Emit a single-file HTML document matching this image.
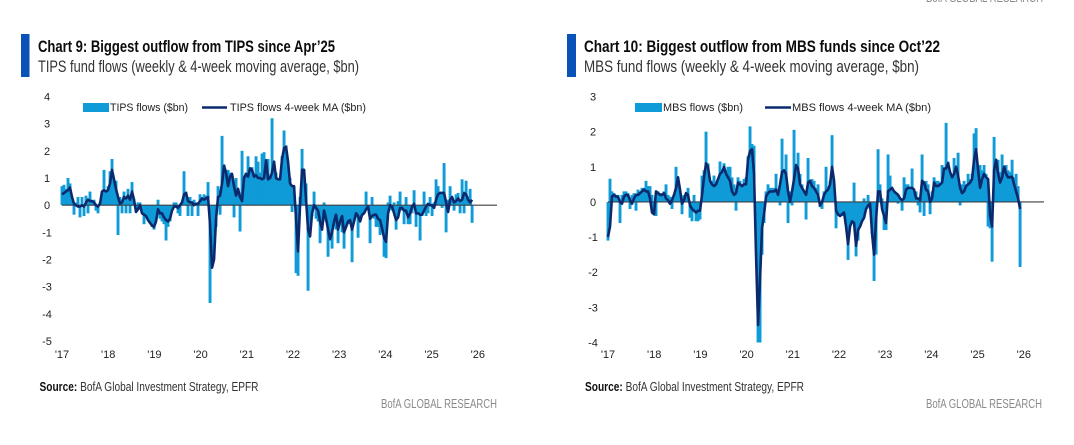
<!DOCTYPE html>
<html lang="en">
<head>
<meta charset="utf-8">
<title>TIPS and MBS fund flows</title>
<style>
html,body{margin:0;padding:0;background:#fff;width:1074px;height:445px;overflow:hidden}
svg{display:block}
text{font-family:"Liberation Sans Narrow","Liberation Sans",sans-serif;fill:#2b2b2b}
.title{font-size:17px;font-weight:bold;fill:#0c0c0c}
.sub{font-size:16.5px;fill:#333}
.legend{font-family:"Liberation Sans",sans-serif;font-size:11px;fill:#222}
.tick{font-family:"Liberation Sans",sans-serif;font-size:11px;fill:#222}
.src{font-size:12.5px;fill:#333}
.srcb{font-weight:bold;fill:#111}
.brand{font-size:12.5px;fill:#8a8a8a}
</style>
</head>
<body>
<svg id="page" width="1074" height="445" viewBox="0 0 1074 445" xmlns="http://www.w3.org/2000/svg">
  <rect width="1074" height="445" fill="#fff"/>
  <text class="brand" x="926" y="2" textLength="117" lengthAdjust="spacingAndGlyphs">BofA GLOBAL RESEARCH</text>

  <g id="panel-left">
    <rect x="21" y="34" width="8.5" height="43" fill="#0a52b8"/>
    <text class="title" x="38" y="52" textLength="297" lengthAdjust="spacingAndGlyphs">Chart 9: Biggest outflow from TIPS since Apr’25</text>
    <text class="sub" x="38" y="72" textLength="321" lengthAdjust="spacingAndGlyphs">TIPS fund flows (weekly &amp; 4-week moving average, $bn)</text>
    <rect x="83" y="103" width="26" height="9" fill="#0f9bd7"/>
    <text class="legend" x="110" y="111" textLength="78" lengthAdjust="spacingAndGlyphs">TIPS flows ($bn)</text>
    <line x1="202" y1="107.5" x2="227" y2="107.5" stroke="#0b2a6e" stroke-width="2.4"/>
    <text class="legend" x="230" y="111" textLength="136" lengthAdjust="spacingAndGlyphs">TIPS flows 4-week MA ($bn)</text>
    <text class="src" x="39.5" y="391" textLength="219" lengthAdjust="spacingAndGlyphs"><tspan class="srcb">Source:</tspan> BofA Global Investment Strategy, EPFR</text>
    <text class="brand" x="381" y="408" textLength="116" lengthAdjust="spacingAndGlyphs">BofA GLOBAL RESEARCH</text>
  </g>

  <g id="panel-right">
    <rect x="567" y="34" width="9" height="43" fill="#0a52b8"/>
    <text class="title" x="584" y="52" textLength="356" lengthAdjust="spacingAndGlyphs">Chart 10: Biggest outflow from MBS funds since Oct’22</text>
    <text class="sub" x="584" y="72" textLength="335" lengthAdjust="spacingAndGlyphs">MBS fund flows (weekly &amp; 4-week moving average, $bn)</text>
    <rect x="635" y="103" width="27" height="9" fill="#0f9bd7"/>
    <text class="legend" x="663" y="111" textLength="80" lengthAdjust="spacingAndGlyphs">MBS flows ($bn)</text>
    <line x1="765" y1="107.5" x2="791" y2="107.5" stroke="#0b2a6e" stroke-width="2.4"/>
    <text class="legend" x="792" y="111" textLength="139" lengthAdjust="spacingAndGlyphs">MBS flows 4-week MA ($bn)</text>
    <text class="src" x="585" y="391" textLength="219" lengthAdjust="spacingAndGlyphs"><tspan class="srcb">Source:</tspan> BofA Global Investment Strategy, EPFR</text>
    <text class="brand" x="926" y="408" textLength="116" lengthAdjust="spacingAndGlyphs">BofA GLOBAL RESEARCH</text>
  </g>
</svg>
<script>
// Shared category labels
const yearLabels = ["'17","'18","'19","'20","'21","'22","'23","'24","'25","'26"];
const firstYear = 2017;
// Sample spacing of the series, in years
const sampleYears = 0.0433;

// TIPS chart data ($bn)
const tipsTicks = [4,3,2,1,0,-1,-2,-3,-4,-5];
const tipsFlows = [
0.7,0.75,0.6,1.0,0.8,0.3,-0.35,0.1,0.3,-0.45,
0.3,-0.4,0.35,-0.3,0.5,0.1,0.2,-0.2,-0.3,0.1,
0.3,1.3,0.5,0.7,1.25,1.7,0.5,0.9,-1.1,0.3,
-0.3,0.5,-0.3,0.6,-0.3,0.85,0.2,-0.25,0.1,0.1,
-0.3,-0.7,-0.4,-0.5,-0.6,-0.8,-0.9,-0.5,0.2,-0.5,
-0.6,-0.7,-1.3,-0.8,-0.6,-0.2,0.1,0.1,-0.3,-0.4,
0.1,1.25,0.5,-0.4,0.3,-0.4,0.2,0.1,-0.4,0.4,
0.1,0.4,0.35,0.85,-3.6,-1.7,-1.6,-0.8,0.7,-0.35,
2.55,1.5,1.2,1.3,1.2,1.1,-0.45,1.0,0.4,-0.97,
2.0,1.0,1.2,1.8,1.4,1.4,1.0,1.8,1.6,1.2,
1.9,1.95,1.3,1.7,1.0,3.2,1.6,1.2,1.0,
1.0,1.8,2.75,2.2,1.4,1.0,-0.25,0.7,-2.5,-2.6,
0.3,2.07,1.3,0.8,-3.15,-0.6,-0.4,0.5,-0.5,-0.6,
-1.4,-0.6,0.1,-0.6,-1.9,-1.3,-1.6,-0.7,-0.9,-1.4,
-0.7,-1.0,-1.6,-0.8,-0.7,-0.6,-2.1,-0.5,-0.4,-1.2,
-0.6,-0.4,-0.3,0.5,-0.1,-1.4,0.3,-0.5,-0.8,-0.8,
-1.1,-1.0,-1.9,-1.95,0.1,0.35,-0.2,0.1,-0.9,0.15,
0.5,-0.2,-0.7,0.3,-0.7,-0.7,-0.3,0.55,-0.8,-0.2,
-1.3,-0.4,0.5,-0.4,-0.3,0.3,-0.4,0.1,0.95,0.7,
0.5,-0.1,1.55,-1.0,0.2,0.7,0.3,-0.2,0.4,0.45,
-0.3,0.95,-0.3,0.9,0.2,0.6,-0.65];
const tipsMA = [
0.4,0.45,0.5,0.55,0.65,0.3,0.05,0,-0.05,-0.05,
0,-0.05,0.1,0.2,0.15,0.15,0.1,0,-0.05,0.05,
0.5,0.55,0.5,0.55,0.8,1.3,0.95,0.6,0.3,0.05,
0.1,0.3,0.25,0.35,0.2,0.5,0.2,-0.25,-0.15,0,
-0.3,-0.35,-0.4,-0.55,-0.65,-0.75,-0.8,-0.6,-0.15,-0.3,
-0.3,-0.45,-0.55,-0.6,-0.5,-0.2,-0.05,-0.05,-0.1,0,
0.1,0.4,0.45,0.15,0.1,0.1,0,0.05,0.05,0.15,
0.25,0.2,0.25,0.3,-0.7,-2.3,-2.0,-0.5,0.3,0.35,
0.8,1.45,1.2,0.7,1.05,1.15,0.7,0.35,0.6,0.3,
0.15,1.0,1.15,1.05,1.35,1.3,1.05,1.1,1.0,1.0,
0.95,1.0,1.65,0.95,1.0,1.2,1.6,1.0,0.95,
0.95,1.7,2.1,2.15,1.6,0.8,0.7,0.7,-0.5,-1.7,
0.0,1.3,1.3,0.2,-0.9,-1.15,-0.3,0,-0.1,-0.2,
-0.6,-0.9,-0.2,-0.5,-0.9,-1.25,-1.0,-0.6,-0.35,-0.9,
-0.6,-0.4,-1.0,-0.8,-0.6,-0.55,-0.9,-0.6,-0.3,-0.4,
-0.6,-0.35,-0.3,-0.15,-0.05,-0.5,-0.4,-0.35,-0.35,-0.5,
-0.55,-0.85,-1.2,-1.35,-0.3,0,-0.05,-0.3,-0.55,-0.45,
-0.1,-0.1,-0.2,-0.2,-0.45,-0.3,-0.05,0.05,-0.3,-0.3,
-0.35,-0.35,-0.2,-0.05,0.05,0,0,-0.1,0.2,0.4,
0.45,0.45,0.45,0.1,-0.25,0.2,0.3,0.1,0.15,0.25,
0.15,0.2,0.45,0.4,0.2,0.1,0.2];

// MBS chart data ($bn)
const mbsTicks = [3,2,1,0,-1,-2,-3,-4];
const mbsFlows = [
-1.1,0.66,0.3,0.25,0.2,0.2,-0.6,0.2,0.3,0.3,
0.25,-0.2,0.2,0.25,-0.25,0.35,0.3,0.4,0.4,0.6,
0.45,0.45,0.2,-0.15,-0.4,0.3,0.25,0.25,0.3,0.5,
0.2,0.15,-0.2,0.2,1.0,0.55,0.3,-0.35,0.2,0.15,
0.4,-0.45,-0.55,0.2,-0.55,-0.55,-0.5,0.75,0.9,2.0,
1.1,0.6,0.6,0.75,0.5,0.6,1.15,0.8,1.1,0.9,
1.0,1.0,0.7,0.5,-0.25,0.7,0.6,0.45,0.65,0.7,
1.3,2.15,1.65,1.6,-1.2,-4.0,-4.0,-1.5,-0.6,0.3,
0.5,0.4,0.4,0.4,0.8,0.3,-0.1,1.8,0.7,1.35,
-0.6,0.3,-0.1,2.05,0.8,1.4,0.8,0.5,0.3,-0.5,
1.25,0.6,0.65,0.6,0.4,0.5,-0.15,-0.2,0.3,1.0,
0.3,
0.6,1.9,0.3,-0.75,-0.4,-0.4,-0.4,-0.4,-0.4,-1.65,
-0.6,0,0.55,-1.55,-1.1,-0.7,-0.4,0.1,0,0.2,
-0.2,-0.9,-2.25,-1.5,1.5,0.5,0.1,-0.8,-0.8,1.35,
0.75,0.35,0.3,0.1,-0.05,0.1,-0.25,0.7,0.5,0.5,
0.3,0.95,0.2,0.3,-0.1,-0.3,1.35,-0.4,0.6,0.5,
-0.35,0.3,0.7,0.6,0.6,0.55,1.05,0.9,2.25,1.15,
0.5,0.7,1.25,0.8,1.4,-0.1,0.5,0.6,0.5,0.8,
0.65,0.8,1.95,2.1,1.0,1.05,0.9,1.05,0.8,-0.7,
-0.75,-1.7,1.85,0.8,1.2,0.85,1.35,1.0,1.05,0.9,
0.85,1.2,0.7,0.8,0.45,-1.85];
const mbsMA = [
-1.0,-0.7,0.15,0.2,0.15,0.15,0.0,-0.05,0.15,0.2,
0.2,0.05,-0.05,0.1,0.2,0.2,0.25,0.3,0.35,0.3,
0.3,0.1,-0.3,-0.35,0.3,0.25,0.2,0.2,0.25,0.1,
0.05,-0.05,0.05,0.2,0.4,0.7,0.35,-0.05,0.05,0.25,
0.2,-0.1,-0.2,-0.25,-0.3,-0.25,-0.25,0.2,0.7,1.1,
1.0,0.6,0.5,0.45,0.5,0.65,0.8,0.85,1.0,0.8,
0.7,0.6,0.3,0.2,0.25,0.55,0.5,0.45,0.5,0.5,
1.2,1.45,1.5,0.8,-1.5,-3.5,-2.2,-0.75,-0.35,0.15,
0.25,0.3,0.3,0.3,0.35,0.2,0.5,0.85,0.9,0.8,
0.3,0,0.3,0.65,1.05,0.95,0.5,0.4,0.3,0.2,
0.55,0.6,0.45,0.4,0.3,0.2,-0.1,0,0.2,0.3,
0.35,
0.5,1.0,0.6,-0.25,-0.35,-0.4,-0.35,-0.3,-0.7,-1.2,
-0.7,-0.55,-0.6,-1.25,-0.8,-0.7,-0.55,-0.45,-0.2,-0.1,
-0.05,-0.9,-1.5,-0.5,0.3,0.3,-0.2,-0.4,-0.6,0.3,
0.35,0.4,0.3,0.25,0.2,0.1,0.05,0.1,0.35,0.4,
0.4,0.4,0.35,0.1,0.1,0.05,0.6,0.55,0.35,0.3,
0,0.1,0.55,0.45,0.45,0.5,0.55,0.95,0.95,1.1,
0.85,0.7,0.8,1.0,0.75,0.4,0.25,0.3,0.45,0.5,
0.55,0.65,1.2,1.5,0.9,0.4,0.65,0.8,0.7,0.65,
-0.4,-0.7,0.9,1.2,0.8,0.55,0.7,1.0,0.8,0.7,
0.7,0.72,0.5,0.3,0.1,-0.2];

const NS = 'http://www.w3.org/2000/svg';

function drawChart(parentId, prefix, ticks, flows, ma, layout) {
  const parent = document.getElementById(parentId);
  const maxTick = ticks[0];
  const minTick = ticks[ticks.length - 1];
  const xScale = function (year) {
    return layout.left + (year - firstYear) * layout.pxPerYear;
  };
  const yScale = function (v) {
    return layout.top + (maxTick - v) * (layout.bottom - layout.top) / (maxTick - minTick);
  };
  const sampleX = function (i) {
    return xScale(firstYear + i * sampleYears);
  };

  // y-axis tick labels
  ticks.forEach(function (t) {
    const label = document.createElementNS(NS, 'text');
    
    
    label.setAttribute('class', 'tick');
    label.setAttribute('text-anchor', 'middle');
    label.setAttribute('x', layout.tickX);
    label.setAttribute('y', yScale(t) + 4);
    label.textContent = String(t);
    parent.appendChild(label);
  });

  // x-axis tick labels
  yearLabels.forEach(function (yl, i) {
    const label = document.createElementNS(NS, 'text');
    
    
    label.setAttribute('class', 'tick');
    label.setAttribute('text-anchor', 'middle');
    label.setAttribute('x', xScale(firstYear + i));
    label.setAttribute('y', layout.xLabelY);
    label.textContent = yl;
    parent.appendChild(label);
  });

  // solid body of the flow columns, following the smoothed series
  const body = document.createElementNS(NS, 'path');
  
  
  let areaPath = 'M' + sampleX(0).toFixed(2) + ' ' + yScale(0).toFixed(2);
  ma.forEach(function (v, i) {
    areaPath += 'L' + sampleX(i).toFixed(2) + ' ' + yScale(v).toFixed(2);
  });
  areaPath += 'L' + sampleX(ma.length - 1).toFixed(2) + ' ' + yScale(0).toFixed(2) + 'Z';
  body.setAttribute('d', areaPath);
  body.setAttribute('fill', '#0f9bd7');
  parent.appendChild(body);

  // weekly flow columns
  const barWidth = sampleYears * layout.pxPerYear * 1.45;
  flows.forEach(function (v, i) {
    const bar = document.createElementNS(NS, 'rect');
    
    
    bar.setAttribute('x', sampleX(i) - barWidth / 2);
    bar.setAttribute('y', Math.min(yScale(v), yScale(0)));
    bar.setAttribute('width', barWidth);
    bar.setAttribute('height', Math.abs(yScale(v) - yScale(0)));
    bar.setAttribute('fill', '#0f9bd7');
    parent.appendChild(bar);
  });

  // zero axis
  const axis = document.createElementNS(NS, 'line');
  
  
  axis.setAttribute('x1', layout.left);
  axis.setAttribute('x2', layout.axisEnd);
  axis.setAttribute('y1', yScale(0));
  axis.setAttribute('y2', yScale(0));
  axis.setAttribute('stroke', '#3a3f45');
  axis.setAttribute('stroke-width', '1.2');
  parent.appendChild(axis);

  // 4-week moving average
  const line = document.createElementNS(NS, 'path');
  
  
  let d = '';
  ma.forEach(function (v, i) {
    d += (i === 0 ? 'M' : 'L') + sampleX(i).toFixed(2) + ' ' + yScale(v).toFixed(2);
  });
  line.setAttribute('d', d);
  line.setAttribute('fill', 'none');
  line.setAttribute('stroke', '#0b2a6e');
  line.setAttribute('stroke-width', '2.6');
  line.setAttribute('stroke-linejoin', 'round');
  parent.appendChild(line);
}

drawChart('panel-left', 'tips', tipsTicks, tipsFlows, tipsMA,
  {left: 62, pxPerYear: 46.2, top: 96.5, bottom: 341, axisEnd: 497, tickX: 47, xLabelY: 358});
drawChart('panel-right', 'mbs', mbsTicks, mbsFlows, mbsMA,
  {left: 608, pxPerYear: 46.2, top: 96.5, bottom: 342.5, axisEnd: 1044, tickX: 593, xLabelY: 358});
</script>
</body>
</html>
